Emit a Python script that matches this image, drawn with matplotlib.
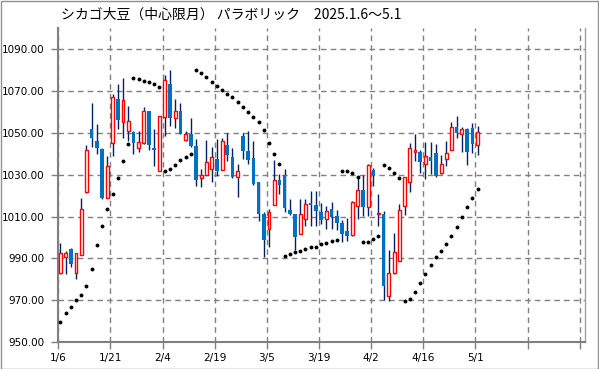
import numpy as np
import matplotlib
matplotlib.use("Agg")
import matplotlib.pyplot as plt
from matplotlib.patches import Rectangle

title = "シカゴ大豆（中心限月） パラボリック　2025.1.6～5.1"

opens = [982.9, 990.8, 994.4, 982.9, 991.9, 1021.6, 1051.6, 1046.3, 1042.1, 1019.0,
         1045.2, 1066.3, 1055.1, 1051.0, 1050.3, 1042.9, 1045.2, 1060.2, 1042.9, 1031.9,
         1057.6, 1073.5, 1057.1, 1060.6, 1046.7, 1049.2, 1043.8, 1028.6, 1030.0, 1032.9,
         1037.3, 1032.4, 1044.0, 1038.3, 1029.0, 1048.3, 1041.4, 1037.8, 1026.3, 1011.1,
         1004.1, 1015.7, 1027.3, 1030.0, 1013.2, 1011.1, 1001.9, 1009.0, 1016.5, 1015.4,
         1012.2, 1008.9, 1013.8, 1010.2, 1007.1, 1003.2, 1001.0, 1015.2, 1022.9, 1014.8,
         1032.1, 1011.0, 1011.0, 971.9, 983.3, 989.0, 1015.2, 1026.7, 1041.0, 1040.6,
         1035.1, 1038.3, 1040.2, 1030.8, 1037.5, 1041.9, 1052.9, 1049.5, 1051.6, 1052.5,
         1044.1]
highs = [997.6, 993.5, 994.8, 992.4, 1018.7, 1044.3, 1064.3, 1054.4, 1042.5, 1039.0,
         1068.6, 1073.3, 1076.2, 1063.0, 1051.0, 1050.8, 1062.2, 1060.5, 1051.9, 1058.1,
         1077.5, 1080.0, 1066.0, 1064.1, 1050.8, 1057.0, 1047.0, 1032.5, 1046.7, 1043.2,
         1046.8, 1047.6, 1049.7, 1042.7, 1035.2, 1050.0, 1050.8, 1045.9, 1026.5, 1012.4,
         1013.5, 1036.8, 1030.2, 1032.5, 1018.3, 1011.3, 1018.3, 1018.3, 1022.1, 1022.1,
         1016.5, 1014.9, 1016.8, 1013.0, 1008.3, 1009.2, 1017.6, 1028.4, 1030.0, 1034.9,
         1033.3, 1020.8, 1012.9, 994.0, 1002.4, 1015.9, 1029.0, 1045.1, 1049.4, 1041.9,
         1045.4, 1045.4, 1044.6, 1039.5, 1046.3, 1055.2, 1058.1, 1052.9, 1052.5, 1054.8,
         1053.0]
lows = [982.5, 982.4, 985.7, 980.3, 991.5, 1021.3, 1043.2, 1039.8, 1018.4, 1018.8,
        1038.9, 1051.7, 1047.5, 1046.2, 1039.8, 1040.8, 1044.8, 1041.6, 1034.1, 1031.7,
        1048.4, 1053.3, 1052.1, 1049.2, 1046.3, 1043.3, 1024.6, 1024.1, 1029.7, 1026.3,
        1029.5, 1032.0, 1036.3, 1028.4, 1019.4, 1037.6, 1034.9, 1025.2, 1008.1, 990.8,
        995.6, 1015.5, 1020.8, 1012.1, 1010.6, 994.0, 1001.6, 1005.6, 1005.7, 1005.7,
        1006.5, 1004.1, 1004.1, 1003.5, 997.8, 998.3, 1000.8, 1008.9, 1010.3, 1010.5,
        1024.6, 1005.7, 970.3, 969.5, 982.5, 988.6, 1010.8, 1021.7, 1036.5, 1030.8,
        1027.9, 1030.3, 1028.9, 1030.2, 1034.3, 1041.6, 1047.6, 1040.8, 1034.4, 1040.3,
        1039.2]
closes = [992.4, 992.4, 987.5, 992.4, 1013.8, 1041.6, 1047.5, 1042.7, 1018.9, 1034.3,
          1067.1, 1055.9, 1065.7, 1055.7, 1045.1, 1045.4, 1060.5, 1044.3, 1041.7, 1058.1,
          1075.2, 1057.1, 1060.5, 1049.5, 1049.5, 1043.7, 1027.5, 1030.0, 1036.2, 1038.6,
          1031.9, 1045.9, 1039.2, 1028.9, 1031.6, 1041.3, 1037.0, 1025.6, 1011.3, 998.9,
          1012.1, 1027.3, 1025.2, 1014.3, 1011.1, 1000.3, 1011.1, 1016.2, 1015.6, 1012.5,
          1008.4, 1012.9, 1009.8, 1007.0, 1001.7, 1000.8, 1016.8, 1022.9, 1014.6, 1034.4,
          1029.5, 1011.6, 977.0, 983.3, 992.9, 1013.0, 1029.0, 1042.9, 1041.9, 1036.0,
          1039.0, 1036.5, 1029.2, 1035.2, 1040.5, 1052.9, 1049.8, 1051.7, 1040.8, 1044.6,
          1050.5]
sar = [959.8, 963.8, 966.7, 970.0, 972.4, 977.0, 985.1, 996.2, 1005.7, 1013.8,
       1020.8, 1028.6, 1036.7, 1044.8, 1076.2, 1075.5, 1074.8, 1074.2, 1073.3, 1071.9,
       1031.9, 1032.9, 1034.8, 1036.8, 1038.3, 1040.0, 1080.0, 1078.4, 1076.7, 1074.4,
       1072.4, 1070.5, 1068.6, 1067.1, 1064.9, 1062.4, 1059.8, 1057.6, 1055.1, 1051.3,
       1045.2, 1040.0, 1035.2, 991.0, 992.1, 993.0, 993.5, 994.3, 995.3, 995.7,
       996.7, 997.3, 998.3, 998.7, 1031.9, 1031.6, 1030.6, 1029.0, 997.7, 998.1,
       999.4, 1000.8, 1034.8, 1033.3, 1030.9, 1028.5, 969.5, 970.8, 973.8, 978.1,
       982.4, 986.7, 990.5, 993.8, 997.1, 1000.6, 1004.9, 1009.8, 1014.8, 1019.0,
       1023.3]
date_labels = ['1/6', '1/21', '2/4', '2/19', '3/5', '3/19', '4/2', '4/16', '5/1', '', '']
y_ticks = [950, 970, 990, 1010, 1030, 1050, 1070, 1090]

UP_EDGE = '#FF0000'
DOWN_FILL = '#0070C0'
WICK = '#002060'
GRID = '#808080'

o = np.array(opens); h = np.array(highs); l = np.array(lows); c = np.array(closes)
x = np.arange(len(o))
up = c >= o

fig = plt.figure(figsize=(5.99, 3.69), dpi=100)
fig.patch.set_facecolor('white')
fig.patches.append(Rectangle((0.5/599, 0.5/369), 1 - 1.5/599, 1 - 1.5/369,
                             transform=fig.transFigure, fill=False,
                             edgecolor='#909090', linewidth=1.0))

ax = fig.add_axes([58.3/599, (369-342.3)/369, (585-58.3)/599, (342.3-28)/369])
ax.set_xlim(-0.4, 100.6)
ax.set_ylim(950, 1100)

# wicks
ax.vlines(x, l, h, color=WICK, linewidth=1.0, zorder=3)
# bodies
body_lo = np.minimum(o, c)
body_h = np.maximum(np.abs(c - o), 0.6)
ax.bar(x[up], body_h[up], bottom=body_lo[up], width=0.56, color='white',
       edgecolor=UP_EDGE, linewidth=1.0, zorder=4)
ax.bar(x[~up], body_h[~up], bottom=body_lo[~up], width=0.68, color=DOWN_FILL,
       edgecolor='none', linewidth=0, zorder=4)

# parabolic SAR
ax.plot(x, sar, linestyle='none', marker='o', markersize=1.8, color='black', zorder=5)

# grid & ticks
xt = np.arange(0, 101, 10) - 0.4
ax.set_xticks(xt)
ax.set_xticklabels(date_labels)
ax.set_yticks(y_ticks)
ax.set_yticklabels([f"{v:.2f}" for v in y_ticks])
ax.grid(True, color=GRID, linestyle=(0, (4, 3)), linewidth=1.0, zorder=1)
ax.set_axisbelow(True)
ax.tick_params(axis='both', colors=GRID, length=5, width=1.0, direction='out',
               labelcolor='black', labelsize=7.5)
ax.tick_params(axis='x', pad=3)
ax.tick_params(axis='y', pad=5)
for side in ['left', 'bottom']:
    ax.spines[side].set_color('#808080')
    ax.spines[side].set_linewidth(1.5)
ax.spines['right'].set_color('#a0a0a0')
ax.spines['right'].set_linewidth(1.0)
ax.spines['top'].set_visible(False)

fig.text(61/599, 1 - 15/369, title, ha='left', va='center', fontsize=10,
         family=['Noto Sans CJK JP', 'DejaVu Sans'])

fig.savefig('out.png', dpi=100, facecolor='white')
